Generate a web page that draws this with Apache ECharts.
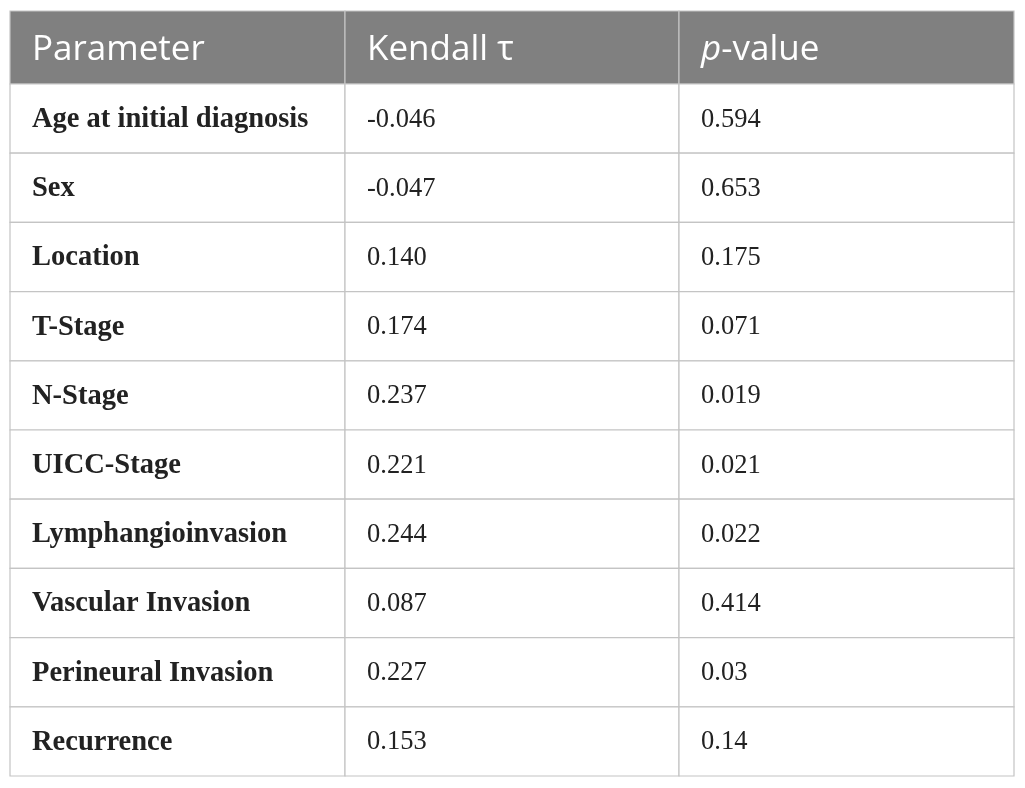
<!DOCTYPE html>
<html>
<head>
<meta charset="utf-8">
<script src="https://cdn.jsdelivr.net/npm/echarts@6/dist/echarts.min.js"></script>
<style>
  html, body { margin: 0; padding: 0; background: #fff; }
  #chart { width: 1025px; height: 788px; }
</style>
</head>
<body>
<div id="chart"></div>
<script>
var headers = ['Parameter', 'Kendall \u03c4', 'p-value'];
var parameters = ['Age at initial diagnosis', 'Sex', 'Location', 'T-Stage', 'N-Stage',
  'UICC-Stage', 'Lymphangioinvasion', 'Vascular Invasion', 'Perineural Invasion', 'Recurrence'];
var kendallTau = ['-0.046', '-0.047', '0.140', '0.174', '0.237', '0.221', '0.244', '0.087', '0.227', '0.153'];
var pValues = ['0.594', '0.653', '0.175', '0.071', '0.019', '0.021', '0.022', '0.414', '0.03', '0.14'];

// column edges in table units (layout, not data)
var colEdges = [0, 335, 669, 1004];
var BORDER = '#c4c4c4';

var headerCells = headers.map(function (h, i) { return [i, 0, h]; });
var bodyCells = [];
parameters.forEach(function (p, r) {
  bodyCells.push([0, r, p]);
  bodyCells.push([1, r, kendallTau[r]]);
  bodyCells.push([2, r, pValues[r]]);
});

function makeRender(isHeader, cells) {
  return function (params, api) {
    var cell = cells[params.dataIndex];
    var col = cell[0];
    var row = cell[1];
    var txt = cell[2];
    var left = api.coord([colEdges[col], row]);
    var right = api.coord([colEdges[col + 1], row]);
    var h = api.size([0, 1])[1];
    var x = left[0], y = left[1] - h / 2, w = right[0] - left[0];
    var textStyle;
    if (isHeader) {
      var rich = undefined, t = txt;
      if (txt === 'p-value') {
        t = '{i|p}{n|-value}';
        rich = {
          i: { fontStyle: 'italic', fontFamily: 'Open Sans', fontSize: 35, fill: '#fff', color: '#fff' },
          n: { fontFamily: 'Open Sans', fontSize: 35, fill: '#fff', color: '#fff' }
        };
      }
      textStyle = { text: t, rich: rich, x: x + 22, y: y + h / 2 + 3, fill: '#fff',
        fontFamily: 'Open Sans', fontSize: 35, verticalAlign: 'middle', align: 'left' };
    } else {
      textStyle = { text: txt, x: x + 22, y: y + h / 2 + 1, fill: '#222',
        fontFamily: 'Liberation Serif', fontWeight: col === 0 ? 'bold' : 'normal',
        fontSize: col === 0 ? 28.5 : 26.5, verticalAlign: 'middle', align: 'left' };
    }
    return {
      type: 'group',
      children: [
        { type: 'rect', shape: { x: x, y: y, width: w, height: h },
          style: { fill: isHeader ? '#808080' : '#fff', stroke: BORDER, lineWidth: 1.2 } },
        { type: 'text', style: textStyle }
      ]
    };
  };
}

var chart = echarts.init(document.getElementById('chart'), null, { renderer: 'canvas' });
chart.setOption({
  animation: false,
  grid: [
    { left: 10, right: 11, top: 11, height: 73 },
    { left: 10, right: 11, top: 84, height: 692 }
  ],
  xAxis: [
    { type: 'value', min: 0, max: 1004, gridIndex: 0, show: false },
    { type: 'value', min: 0, max: 1004, gridIndex: 1, show: false }
  ],
  yAxis: [
    { type: 'category', data: ['header'], inverse: true, gridIndex: 0, show: false },
    { type: 'category', data: parameters, inverse: true, gridIndex: 1, show: false }
  ],
  series: [
    { type: 'custom', xAxisIndex: 0, yAxisIndex: 0, renderItem: makeRender(true, headerCells),
      data: headerCells.map(function (c) { return [c[0], c[1]]; }), encode: { x: 0, y: 1 } },
    { type: 'custom', xAxisIndex: 1, yAxisIndex: 1, renderItem: makeRender(false, bodyCells),
      data: bodyCells.map(function (c) { return [c[0], c[1]]; }), encode: { x: 0, y: 1 } }
  ]
});
</script>
</body>
</html>
